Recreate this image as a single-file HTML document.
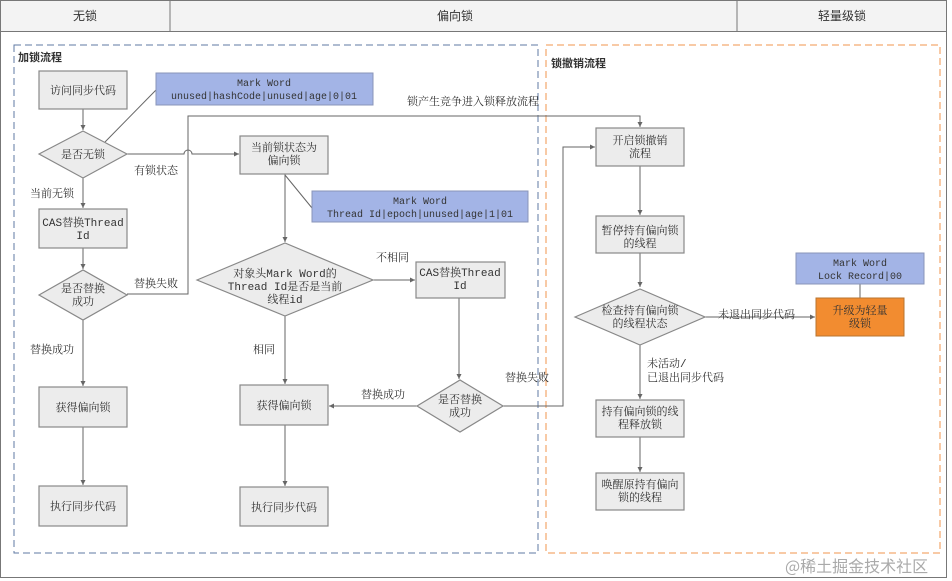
<!DOCTYPE html>
<html><head><meta charset="utf-8"><style>
body{margin:0;background:#fff;}
svg{display:block;}
.t{font-family:"Liberation Mono","Noto Serif CJK SC",monospace;font-size:11px;fill:#333;}
.mw{font-size:10px;}
.b{fill:#ececec;stroke:#888;stroke-width:1.2;}
.m{fill:#a3b4e6;stroke:#8a95b8;stroke-width:1;}
.l{stroke:#666;stroke-width:1;fill:none;}
</style></head><body>
<svg width="952" height="581" viewBox="0 0 952 581" xmlns="http://www.w3.org/2000/svg">
<defs><marker id="a" markerWidth="6" markerHeight="6" refX="5" refY="3" orient="auto"><path d="M0,0.5 L5,3 L0,5.5z" fill="#666"/></marker></defs>
<rect x="0.5" y="0.5" width="946" height="577" fill="#fff" stroke="#777"/>
<rect x="0.5" y="0.5" width="946" height="31" fill="#f3f3f3" stroke="#777"/>
<line x1="170" y1="0" x2="170" y2="32" stroke="#777"/>
<line x1="737" y1="0" x2="737" y2="32" stroke="#777"/>
<g font-size="12" text-anchor="middle" fill="#333" style="font-family:'Noto Sans CJK SC',sans-serif">
<text x="85" y="20">无锁</text><text x="455" y="20">偏向锁</text><text x="842" y="20">轻量级锁</text></g>
<rect x="14" y="45" width="524" height="508" fill="none" stroke="#5f7aa3" stroke-dasharray="7,4"/>
<rect x="546" y="45" width="394" height="508" fill="none" stroke="#f0954c" stroke-dasharray="7,4"/>
<text x="18" y="61" style="font-family:'Noto Sans CJK SC',sans-serif;font-size:11px;font-weight:bold;fill:#333">加锁流程</text>
<text x="551" y="67" style="font-family:'Noto Sans CJK SC',sans-serif;font-size:11px;font-weight:bold;fill:#333">锁撤销流程</text>

<g class="l">
<line x1="83" y1="109" x2="83" y2="130" marker-end="url(#a)"/>
<line x1="105" y1="142" x2="156" y2="90"/>
<path d="M127,154 H184 A4,4 0 0 1 192,154 H239" marker-end="url(#a)"/>
<line x1="83" y1="178" x2="83" y2="208" marker-end="url(#a)"/>
<line x1="83" y1="248" x2="83" y2="269" marker-end="url(#a)"/>
<path d="M127,294 H188 V116 H640 V127" marker-end="url(#a)"/>
<line x1="83" y1="320" x2="83" y2="386" marker-end="url(#a)"/>
<line x1="83" y1="427" x2="83" y2="485" marker-end="url(#a)"/>
<line x1="285" y1="175" x2="312" y2="208"/>
<line x1="285" y1="174" x2="285" y2="242" marker-end="url(#a)"/>
<line x1="373" y1="280" x2="415" y2="280" marker-end="url(#a)"/>
<line x1="285" y1="316" x2="285" y2="384" marker-end="url(#a)"/>
<line x1="459" y1="298" x2="459" y2="379" marker-end="url(#a)"/>
<line x1="417" y1="406" x2="329" y2="406" marker-end="url(#a)"/>
<path d="M503,406 H563 V147 H595" marker-end="url(#a)"/>
<line x1="285" y1="425" x2="285" y2="486" marker-end="url(#a)"/>
<line x1="640" y1="166" x2="640" y2="215" marker-end="url(#a)"/>
<line x1="640" y1="253" x2="640" y2="287" marker-end="url(#a)"/>
<line x1="704" y1="317" x2="815" y2="317" marker-end="url(#a)"/>
<line x1="860" y1="284" x2="860" y2="298"/>
<line x1="640" y1="345" x2="640" y2="399" marker-end="url(#a)"/>
<line x1="640" y1="437" x2="640" y2="472" marker-end="url(#a)"/>
</g>

<rect class="b" x="39" y="71" width="88" height="38"/>
<polygon class="b" points="39,154 83,131 127,154 83,178"/>
<rect class="b" x="39" y="209" width="88" height="39"/>
<polygon class="b" points="39,295 83,270 127,295 83,320"/>
<rect class="b" x="39" y="387" width="88" height="40"/>
<rect class="b" x="39" y="486" width="88" height="40"/>
<rect class="m" x="156" y="73" width="217" height="32"/>
<rect class="b" x="240" y="136" width="88" height="38"/>
<rect class="m" x="312" y="191" width="216" height="31"/>
<polygon class="b" points="197,280 285,243 373,280 285,316"/>
<rect class="b" x="416" y="262" width="89" height="36"/>
<polygon class="b" points="417,406 460,380 503,406 460,432"/>
<rect class="b" x="240" y="385" width="88" height="40"/>
<rect class="b" x="240" y="487" width="88" height="39"/>
<rect class="b" x="596" y="128" width="88" height="38"/>
<rect class="b" x="596" y="216" width="88" height="37"/>
<polygon class="b" points="575,317 640,289 705,317 640,345"/>
<rect class="m" x="796" y="253" width="128" height="31"/>
<rect x="816" y="298" width="88" height="38" fill="#f28c30" stroke="#b8742f"/>
<rect class="b" x="596" y="400" width="88" height="37"/>
<rect class="b" x="596" y="473" width="88" height="37"/>

<g class="t" text-anchor="middle">
<text x="83" y="94">访问同步代码</text>
<text x="83" y="158">是否无锁</text>
<text x="83" y="226">CAS替换Thread</text><text x="83" y="239">Id</text>
<text x="83" y="292">是否替换</text><text x="83" y="305">成功</text>
<text x="83" y="411">获得偏向锁</text>
<text x="83" y="510">执行同步代码</text>
<text class="mw" x="264" y="86">Mark Word</text>
<text class="mw" x="264" y="99">unused|hashCode|unused|age|0|01</text>
<text x="284" y="151">当前锁状态为</text><text x="284" y="164">偏向锁</text>
<text class="mw" x="420" y="204">Mark Word</text>
<text class="mw" x="420" y="217">Thread Id|epoch|unused|age|1|01</text>
<text x="285" y="277">对象头Mark Word的</text>
<text x="285" y="290">Thread Id是否是当前</text>
<text x="285" y="303">线程id</text>
<text x="460" y="276">CAS替换Thread</text><text x="460" y="289">Id</text>
<text x="460" y="403">是否替换</text><text x="460" y="416">成功</text>
<text x="284" y="409">获得偏向锁</text>
<text x="284" y="511">执行同步代码</text>
<text x="640" y="144">开启锁撤销</text><text x="640" y="157">流程</text>
<text x="640" y="234">暂停持有偏向锁</text><text x="640" y="247">的线程</text>
<text x="640" y="314">检查持有偏向锁</text><text x="640" y="327">的线程状态</text>
<text class="mw" x="860" y="266">Mark Word</text>
<text class="mw" x="860" y="279">Lock Record|00</text>
<text x="860" y="314">升级为轻量</text><text x="860" y="327">级锁</text>
<text x="640" y="415">持有偏向锁的线</text><text x="640" y="428">程释放锁</text>
<text x="640" y="488">唤醒原持有偏向</text><text x="640" y="501">锁的线程</text>
</g>
<g class="t">
<text x="30" y="197">当前无锁</text>
<text x="134" y="174">有锁状态</text>
<text x="134" y="287">替换失败</text>
<text x="30" y="353">替换成功</text>
<text x="407" y="105">锁产生竞争进入锁释放流程</text>
<text x="376" y="261">不相同</text>
<text x="253" y="353">相同</text>
<text x="361" y="398">替换成功</text>
<text x="505" y="381">替换失败</text>
<text x="718" y="318">未退出同步代码</text>
<text x="647" y="367">未活动/</text>
<text x="647" y="381">已退出同步代码</text>
</g>
<text x="785" y="572" style="font-family:'Noto Sans CJK SC',sans-serif;font-size:16px;fill:#aaa">@稀土掘金技术社区</text>
</svg>
</body></html>
